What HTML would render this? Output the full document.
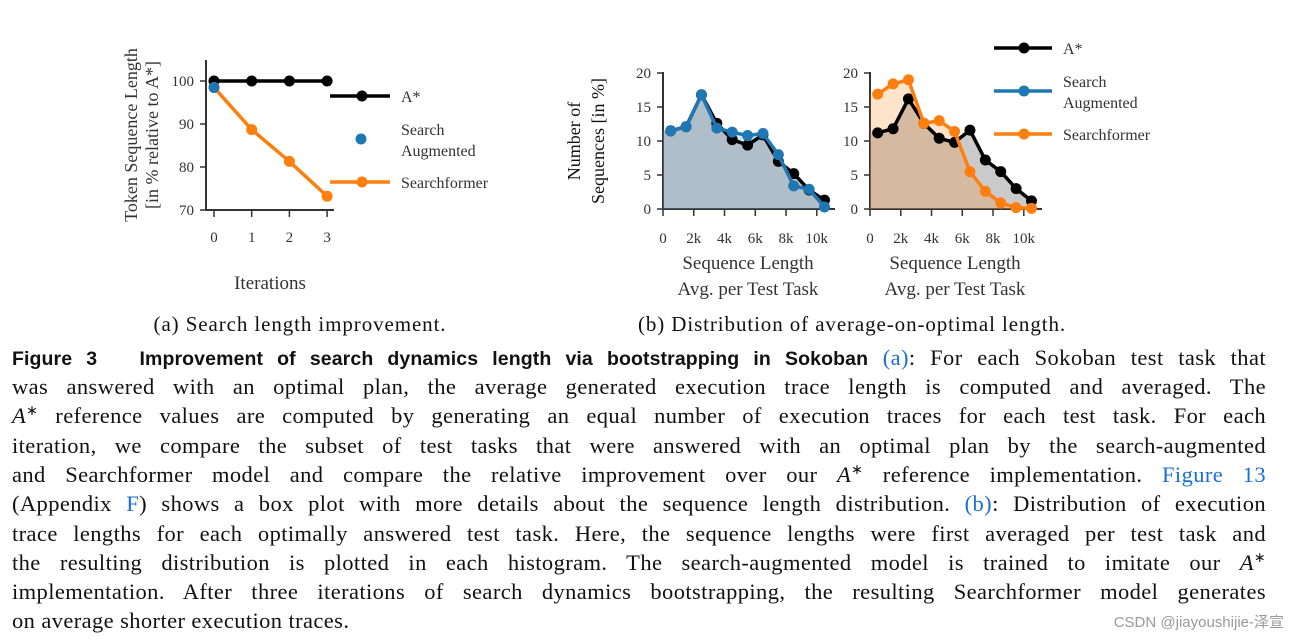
<!DOCTYPE html>
<html><head><meta charset="utf-8"><style>
html,body{margin:0;padding:0;background:#fff;width:1298px;height:642px;overflow:hidden;position:relative}
svg{position:absolute;left:0;top:0}
.cap{position:absolute;left:12px;width:1254px;font-family:"Liberation Serif",serif;font-size:22.5px;letter-spacing:0.4px;color:#111;white-space:nowrap;line-height:29px;height:29px}
.j{text-align:justify;text-align-last:justify}
.b{font-family:"Liberation Sans",sans-serif;font-weight:bold;font-size:19.5px;letter-spacing:0.1px}
.l{color:#1a6fd6}
sup{font-size:14px;line-height:0;vertical-align:0;position:relative;top:-8px}
.wm{position:absolute;right:14px;top:611px;font-family:"Liberation Sans","Noto Sans CJK SC",sans-serif;font-size:15px;color:#999}
</style></head><body>
<svg id="fig" width="1298" height="642"></svg>
<div class="cap j" style="top:343px"><span class="b">Figure 3&nbsp;&nbsp; Improvement of search dynamics length via bootstrapping in Sokoban</span> <span class="l">(a)</span>: For each Sokoban test task that</div>
<div class="cap j" style="top:372px">was answered with an optimal plan, the average generated execution trace length is computed and averaged. The</div>
<div class="cap j" style="top:401px"><i>A</i><sup>∗</sup> reference values are computed by generating an equal number of execution traces for each test task. For each</div>
<div class="cap j" style="top:431px">iteration, we compare the subset of test tasks that were answered with an optimal plan by the search-augmented</div>
<div class="cap j" style="top:460px">and Searchformer model and compare the relative improvement over our <i>A</i><sup>∗</sup> reference implementation. <span class="l">Figure 13</span></div>
<div class="cap j" style="top:489px">(Appendix <span class="l">F</span>) shows a box plot with more details about the sequence length distribution. <span class="l">(b)</span>: Distribution of execution</div>
<div class="cap j" style="top:519px">trace lengths for each optimally answered test task. Here, the sequence lengths were first averaged per test task and</div>
<div class="cap j" style="top:548px">the resulting distribution is plotted in each histogram. The search-augmented model is trained to imitate our <i>A</i><sup>∗</sup></div>
<div class="cap j" style="top:577px">implementation. After three iterations of search dynamics bootstrapping, the resulting Searchformer model generates</div>
<div class="cap" style="top:606px">on average shorter execution traces.</div>
<div class="wm">CSDN @jiayoushijie-泽宣</div>
<script>
const iterCats=[0,1,2,3];
const astarIter=[100,100,100,100];
const searchAugIter=[98.5];
const searchformerIter=[98.5,88.7,81.3,73.2];
const leftYTicks=[70,80,90,100];
const binCenters=[0.5,1.5,2.5,3.5,4.5,5.5,6.5,7.5,8.5,9.5,10.5];
const astarHistB=[11.5,12.1,16.8,12.6,10.2,9.4,10.9,7.0,5.2,2.8,1.3];
const searchAugHist=[11.5,12.1,16.8,11.9,11.3,10.8,11.1,8.0,3.4,2.9,0.3];
const astarHistC=[11.2,11.8,16.2,12.6,10.4,9.8,11.6,7.2,5.5,3.0,1.2];
const searchformerHist=[16.9,18.4,19.0,12.6,13.0,11.4,5.5,2.6,0.9,0.2,0.1];
const histYTicks=[0,5,10,15,20];
const histXTicks=[0,2,4,6,8,10];
const histXLabels=["0","2k","4k","6k","8k","10k"];

const svg=document.getElementById('fig');
const NS='http://www.w3.org/2000/svg';
function mk(tag,attrs,name,parent){const e=document.createElementNS(NS,tag);for(const k in attrs)e.setAttribute(k,attrs[k]);


(parent||svg).appendChild(e);return e;}
function txt(x,y,s,size,name,anchor,extra){const t=mk('text',Object.assign({x:x,y:y,'font-size':size,'font-family':'Liberation Serif, serif',fill:'#333','text-anchor':anchor||'middle'},extra||{}),name);t.textContent=s;return t;}
const AX='#333';
// ---- Left chart
const lx=v=>214+v*37.7, ly=v=>81+(100-v)*4.3;
mk('line',{x1:206,y1:60,x2:206,y2:211,stroke:AX,'stroke-width':2},'left-y-axis');
mk('line',{x1:205,y1:210,x2:334,y2:210,stroke:AX,'stroke-width':2},'left-x-axis');
leftYTicks.forEach(v=>{mk('line',{x1:200,y1:ly(v),x2:206,y2:ly(v),stroke:AX,'stroke-width':1.5},'left-y-tick');txt(194,ly(v)+5,String(v),15,'left-y-tick-label','end');});
iterCats.forEach(v=>{mk('line',{x1:lx(v),y1:210,x2:lx(v),y2:217,stroke:AX,'stroke-width':1.5},'left-x-tick');txt(lx(v),242,String(v),15,'left-x-tick-label');});
txt(270,289,'Iterations',19,'left-x-axis-title');
const yt=mk('text',{transform:'translate(137,135) rotate(-90)','font-size':18,'font-family':'Liberation Serif, serif',fill:'#333','text-anchor':'middle'},'left-y-axis-title');
yt.innerHTML='<tspan x="0" dy="0">Token Sequence Length</tspan><tspan x="0" dy="21">[in % relative to A*]</tspan>';
function series(xs,ys,fx,fy,col,name,noLine){const pts=xs.slice(0,ys.length).map((x,i)=>fx(x)+','+fy(ys[i])).join(' ');
if(!noLine)mk('polyline',{points:pts,fill:'none',stroke:col,'stroke-width':3.5,'stroke-linejoin':'round'},name+'-line');
ys.forEach((y,i)=>mk('circle',{cx:fx(xs[i]),cy:fy(y),r:5.5,fill:col},name+'-point'));}
series(iterCats,astarIter,lx,ly,'#000','astar-iter');
series(iterCats,searchformerIter,lx,ly,'#ff7f0e','searchformer-iter');
series(iterCats,searchAugIter,lx,ly,'#1f77b4','search-aug-iter',true);
// left legend
mk('line',{x1:330,y1:96,x2:390,y2:96,stroke:'#000','stroke-width':3.5},'legend-astar-line');
mk('circle',{cx:362,cy:96,r:5.5,fill:'#000'},'legend-astar-marker');
txt(401,102,'A*',16,'legend-astar-label','start');
mk('circle',{cx:361,cy:139,r:5.5,fill:'#1f77b4'},'legend-search-aug-marker');
txt(401,135,'Search',16,'legend-search-aug-label','start');txt(401,156,'Augmented',16,'legend-search-aug-label','start');
mk('line',{x1:330,y1:182,x2:390,y2:182,stroke:'#ff7f0e','stroke-width':3.5},'legend-searchformer-line');
mk('circle',{cx:362,cy:182,r:5.5,fill:'#ff7f0e'},'legend-searchformer-marker');
txt(401,188,'Searchformer',16,'legend-searchformer-label','start');
txt(300,331,'(a) Search length improvement.',21,'subcaption-a',null,{'letter-spacing':'0.9',fill:'#111'});
// ---- Histograms
function hist(x0,name,astar,other,col,fillCol,fillOp,grayOp){
 const fx=v=>x0+v*15.38, fy=v=>209-v*6.8;
 mk('line',{x1:x0,y1:72,x2:x0,y2:210,stroke:AX,'stroke-width':2},name+'-y-axis');
 mk('line',{x1:x0-1,y1:209,x2:x0+172,y2:209,stroke:AX,'stroke-width':2},name+'-x-axis');
 histYTicks.forEach(v=>{mk('line',{x1:x0-6,y1:fy(v),x2:x0,y2:fy(v),stroke:AX,'stroke-width':1.5},name+'-y-tick');txt(x0-12,fy(v)+5,String(v),15,name+'-y-tick-label','end');});
 histXTicks.forEach((v,i)=>{mk('line',{x1:fx(v),y1:209,x2:fx(v),y2:216,stroke:AX,'stroke-width':1.5},name+'-x-tick');txt(fx(v),243,histXLabels[i],15,name+'-x-tick-label');});
 const area2=(ys)=>x0+','+fy(0)+' '+x0+','+fy(ys[0])+' '+ys.map((y,i)=>fx(binCenters[i])+','+fy(y)).join(' ')+' '+fx(binCenters[ys.length-1])+','+fy(0);
 mk('polygon',{points:area2(astar),fill:'#808080','fill-opacity':grayOp},name+'-astar-area');
 mk('polygon',{points:area2(other),fill:fillCol,'fill-opacity':fillOp},name+'-area');
 series(binCenters,astar,fx,fy,'#000',name+'-astar');
 series(binCenters,other,fx,fy,col,name+'-series');
 txt(x0+85,269,'Sequence Length',19,name+'-x-axis-title');
 txt(x0+85,295,'Avg. per Test Task',19,name+'-x-axis-title');
}
hist(663,'hist-search-aug',astarHistB,searchAugHist,'#1f77b4','#1f77b4',0.18,0.38);
hist(870,'hist-searchformer',astarHistC,searchformerHist,'#ff7f0e','#ff7f0e',0.22,0.42);
const yt2=mk('text',{transform:'translate(580,141) rotate(-90)','font-size':18,'font-family':'Liberation Serif, serif',fill:'#111','text-anchor':'middle'},'hist-y-axis-title');
yt2.innerHTML='<tspan x="0" dy="0">Number of</tspan><tspan x="0" dy="24">Sequences [in %]</tspan>';
// right legend
mk('line',{x1:994,y1:48,x2:1052,y2:48,stroke:'#000','stroke-width':3.5},'legend2-astar-line');
mk('circle',{cx:1024,cy:48,r:5.5,fill:'#000'},'legend2-astar-marker');
txt(1063,54,'A*',16,'legend2-astar-label','start');
mk('line',{x1:994,y1:91,x2:1052,y2:91,stroke:'#1f77b4','stroke-width':3.5},'legend2-search-aug-line');
mk('circle',{cx:1024,cy:91,r:5.5,fill:'#1f77b4'},'legend2-search-aug-marker');
txt(1063,87,'Search',16,'legend2-search-aug-label','start');txt(1063,108,'Augmented',16,'legend2-search-aug-label','start');
mk('line',{x1:994,y1:134,x2:1052,y2:134,stroke:'#ff7f0e','stroke-width':3.5},'legend2-searchformer-line');
mk('circle',{cx:1024,cy:134,r:5.5,fill:'#ff7f0e'},'legend2-searchformer-marker');
txt(1063,140,'Searchformer',16,'legend2-searchformer-label','start');
txt(852,331,'(b) Distribution of average-on-optimal length.',21,'subcaption-b',null,{'letter-spacing':'0.9',fill:'#111'});
</script>
</body></html>
